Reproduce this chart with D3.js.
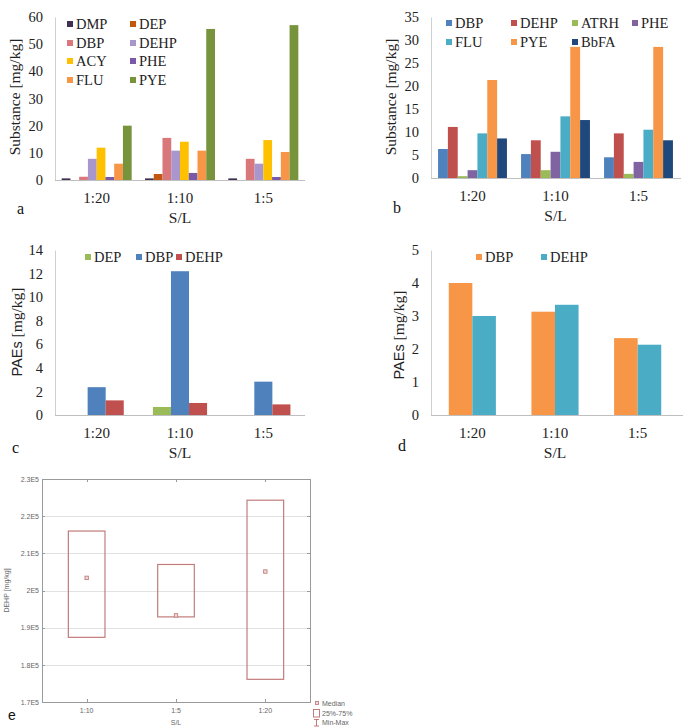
<!DOCTYPE html>
<html><head><meta charset="utf-8">
<script src="https://cdn.jsdelivr.net/npm/d3@7"></script>
<style>
body{margin:0;background:#fff;}
svg{display:block;}
</style></head>
<body>
<svg id="chart" width="685" height="727"></svg>
<script>
// ---------- DATA ----------
const categories = ["1:20", "1:10", "1:5"];

// Panel a
const seriesA = ["DMP", "DEP", "DBP", "DEHP", "ACY", "PHE", "FLU", "PYE"];
const colorsA = ["#403152", "#C0580F", "#D9777A", "#A896CC", "#FFC000", "#7A5AA8", "#F79646", "#77933C"];
const valuesA_1_20 = [0.6, 0, 1.2, 7.8, 11.9, 1.1, 6.0, 20.0];
const valuesA_1_10 = [0.6, 2.2, 15.5, 10.8, 14.1, 2.6, 10.8, 55.6];
const valuesA_1_5  = [0.6, 0, 7.8, 6.0, 14.7, 1.1, 10.3, 57.0];
const ticksA = [0, 10, 20, 30, 40, 50, 60];

// Panel b
const seriesB = ["DBP", "DEHP", "ATRH", "PHE", "FLU", "PYE", "BbFA"];
const colorsB = ["#4F81BD", "#C0504D", "#9BBB59", "#8064A2", "#4BACC6", "#F79646", "#1F497D"];
const valuesB_1_20 = [6.3, 11.1, 0.4, 1.7, 9.7, 21.3, 8.6];
const valuesB_1_10 = [5.2, 8.2, 1.7, 5.7, 13.4, 28.5, 12.6];
const valuesB_1_5  = [4.5, 9.7, 0.9, 3.5, 10.5, 28.5, 8.2];
const ticksB = [0, 5, 10, 15, 20, 25, 30, 35];

// Panel c
const seriesC = ["DEP", "DBP", "DEHP"];
const colorsC = ["#9BBB59", "#4F81BD", "#C0504D"];
const valuesC_1_20 = [0, 2.36, 1.24];
const valuesC_1_10 = [0.68, 12.2, 1.02];
const valuesC_1_5  = [0, 2.83, 0.9];
const ticksC = [0, 2, 4, 6, 8, 10, 12, 14];

// Panel d
const seriesD = ["DBP", "DEHP"];
const colorsD = ["#F79646", "#4BACC6"];
const valuesD_1_20 = [4.0, 3.0];
const valuesD_1_10 = [3.13, 3.34];
const valuesD_1_5  = [2.33, 2.13];
const ticksD = [0, 1, 2, 3, 4, 5];

// Panel e (box plot)
const categoriesE = ["1:10", "1:5", "1:20"];
const q1E     = [187400, 192900, 176100];
const q3E     = [216000, 207000, 224300];
const medianE = [203400, 193300, 205100];
const tickValuesE = [170000, 180000, 190000, 200000, 210000, 220000, 230000];
const tickLabelsE = ["1.7E5", "1.8E5", "1.9E5", "2E5", "2.1E5", "2.2E5", "2.3E5"];
const legendE = ["Median", "25%-75%", "Min-Max"];

// ---------- DRAW ----------
const svg = d3.select("#chart");
const SERIF = '"Liberation Serif", "Times New Roman", serif';
const SANS = '"Liberation Sans", Arial, sans-serif';

function barPanel(o) {
  const g = svg.append("g");
  const x = d3.scaleBand().domain(categories).range([o.x0, o.x1]).padding(0);
  const y = d3.scaleLinear().domain([0, o.max]).range([o.yBottom, o.yTop]);
  const bw = x.bandwidth();
  const inner = d3.scaleBand().domain(o.series)
    .range([bw * (1 - o.frac) / 2, bw * (1 + o.frac) / 2]).padding(0);

  // y axis
  const ya = g.append("g").attr("transform", `translate(${o.x0},0)`)
    .call(d3.axisLeft(y).tickValues(o.ticks).tickFormat(d3.format("d")).tickSize(0).tickPadding(12).tickSizeOuter(0));
  ya.attr("font-family", null).attr("font-size", null);
  ya.select(".domain").attr("stroke", "#D0D0D0");
  ya.selectAll("text").style("font-family", SERIF).style("font-size", "14.5px").attr("fill", "#222");

  // bars
  categories.forEach((c, ci) => {
    const vals = o.values[ci];
    g.selectAll(null).data(o.series.map((s, si) => ({ s, v: vals[si], col: o.colors[si] })))
      .enter().append("rect")
      .attr("x", d => x(c) + inner(d.s))
      .attr("width", inner.bandwidth())
      .attr("y", d => y(d.v))
      .attr("height", d => y(0) - y(d.v))
      .attr("fill", d => d.col);
  });

  // x axis
  const xa = g.append("g").attr("transform", `translate(0,${o.yBottom})`)
    .call(d3.axisBottom(x).tickSize(0).tickPadding(12).tickSizeOuter(0));
  xa.attr("font-family", null).attr("font-size", null);
  xa.select(".domain").attr("stroke", "#BFBFBF").attr("d", `M${o.x0},0.5H${o.xLine}`);
  xa.selectAll("text").style("font-family", SERIF).style("font-size", "15px").attr("fill", "#222");

  // axis titles
  g.append("text").style("font-family", SERIF).attr("x", (o.x0 + o.x1) / 2).attr("y", o.yBottom + 43)
    .attr("text-anchor", "middle").style("font-size", "15.5px").attr("fill", "#222")
    .text("S/L");
  const yt = g.append("text").style("font-family", SERIF)
    .attr("transform", `translate(${o.ytX},${o.ytY}) rotate(-90)`)
    .attr("text-anchor", "middle").style("font-size", "15.5px").attr("fill", "#222");
  if (o.yTitleSans) {
    yt.append("tspan").style("font-family", SANS).style("font-size", "14.5px").text(o.yTitleSans);
    yt.append("tspan").text(o.yTitle);
  } else yt.text(o.yTitle);

  // legend
  o.series.forEach((s, si) => {
    const p = o.legendPos[si];
    g.append("rect").attr("x", p[0]).attr("y", p[1] - 3).attr("width", 6).attr("height", 6).attr("fill", o.colors[si]);
    g.append("text").style("font-family", SERIF).attr("x", p[0] + 9).attr("y", p[1] + 5)
      .style("font-size", "14.5px").attr("fill", "#222").text(s);
  });

  // panel letter
  g.append("text").style("font-family", SERIF).attr("x", o.letterPos[0]).attr("y", o.letterPos[1])
    .style("font-size", "16px").attr("fill", "#111").text(o.letter);
}

barPanel({
  x0: 55, x1: 305, xLine: 305, yTop: 17, yBottom: 180, max: 60, ticks: ticksA,
  series: seriesA, colors: colorsA, values: [valuesA_1_20, valuesA_1_10, valuesA_1_5], frac: 0.84,
  yTitle: "Substance [mg/kg]", ytX: 20, ytY: 97,
  legendPos: [[67, 24], [130, 24], [67, 43], [130, 43], [67, 61], [130, 61], [67, 80], [130, 80]],
  letter: "a", letterPos: [17, 214]
});

barPanel({
  x0: 431, x1: 680, xLine: 681, yTop: 17, yBottom: 178, max: 35, ticks: ticksB,
  series: seriesB, colors: colorsB, values: [valuesB_1_20, valuesB_1_10, valuesB_1_5], frac: 0.83,
  yTitle: "Substance [mg/kg]", ytX: 396, ytY: 97,
  legendPos: [[446, 23], [511, 23], [572, 23], [632, 23], [446, 42], [511, 42], [572, 42]],
  letter: "b", letterPos: [393, 213]
});

barPanel({
  x0: 55, x1: 305, xLine: 305, yTop: 250, yBottom: 415, max: 14, ticks: ticksC,
  series: seriesC, colors: colorsC, values: [valuesC_1_20, valuesC_1_10, valuesC_1_5], frac: 0.65,
  yTitleSans: "PAEs", yTitle: " [mg/kg]", ytX: 22, ytY: 332,
  legendPos: [[85, 257], [136, 257], [176, 257]],
  letter: "c", letterPos: [12, 453]
});

barPanel({
  x0: 431, x1: 679, xLine: 683, yTop: 250, yBottom: 415, max: 5, ticks: ticksD,
  series: seriesD, colors: colorsD, values: [valuesD_1_20, valuesD_1_10, valuesD_1_5], frac: 0.57,
  yTitleSans: "PAEs", yTitle: " [mg/kg]", ytX: 404, ytY: 335,
  legendPos: [[476, 257], [541, 257]],
  letter: "d", letterPos: [398, 451]
});

// ---------- Panel e ----------
(function () {
  const g = svg.append("g");
  const L = 42, R = 310, T = 479, B = 702;
  const x = d3.scaleBand().domain(categoriesE).range([L, R]).padding(0);
  const y = d3.scaleLinear().domain([170000, 230000]).range([B, T]);
  const boxCol = "#C27C7C";
  const frameCol = "#9A9A9A";

  // grid
  g.selectAll(null).data(tickValuesE.slice(1, -1)).enter().append("line")
    .attr("x1", L).attr("x2", R).attr("y1", d => Math.round(y(d)) + 0.5).attr("y2", d => Math.round(y(d)) + 0.5)
    .attr("stroke", "#E2E2E2").attr("stroke-width", 1);

  // y tick labels
  const ya = g.append("g").attr("transform", `translate(${L},0)`)
    .call(d3.axisLeft(y).tickValues(tickValuesE).tickFormat((d, i) => tickLabelsE[i]).tickSize(0).tickPadding(3));
  ya.attr("font-family", null).attr("font-size", null);
  ya.select(".domain").remove();
  ya.selectAll("text").style("font-family", SANS).style("font-size", "7px").attr("fill", "#666");

  // x tick labels
  const xa = g.append("g").attr("transform", `translate(0,${B})`)
    .call(d3.axisBottom(x).tickSize(0).tickPadding(6));
  xa.attr("font-family", null).attr("font-size", null);
  xa.select(".domain").remove();
  xa.selectAll("text").style("font-family", SANS).style("font-size", "7px").attr("fill", "#666");

  // inward ticks on frame
  categoriesE.forEach(c => {
    const cx = Math.round(x(c) + x.bandwidth() / 2) + 0.5;
    g.append("line").attr("x1", cx).attr("x2", cx).attr("y1", T).attr("y2", T + 3).attr("stroke", frameCol);
    g.append("line").attr("x1", cx).attr("x2", cx).attr("y1", B).attr("y2", B - 3).attr("stroke", frameCol);
  });
  tickValuesE.forEach(v => {
    const yy = Math.round(y(v)) + 0.5;
    g.append("line").attr("x1", L).attr("x2", L + 3).attr("y1", yy).attr("y2", yy).attr("stroke", frameCol);
    g.append("line").attr("x1", R).attr("x2", R - 3).attr("y1", yy).attr("y2", yy).attr("stroke", frameCol);
  });

  // frame
  g.append("rect").attr("x", L + 0.5).attr("y", T + 0.5).attr("width", R - L).attr("height", B - T)
    .attr("fill", "none").attr("stroke", frameCol).attr("stroke-width", 1);

  // boxes
  const bw = x.bandwidth() * 0.41;
  categoriesE.forEach((c, i) => {
    const cx = x(c) + x.bandwidth() / 2;
    g.append("rect").attr("x", cx - bw / 2).attr("y", y(q3E[i])).attr("width", bw)
      .attr("height", y(q1E[i]) - y(q3E[i])).attr("fill", "none").attr("stroke", boxCol).attr("stroke-width", 1.2);
    g.append("rect").attr("x", cx - 1.7).attr("y", y(medianE[i]) - 1.7).attr("width", 3.4).attr("height", 3.4)
      .attr("fill", "#F4DADA").attr("stroke", boxCol).attr("stroke-width", 0.9);
  });

  // axis titles
  g.append("text").style("font-family", SANS).attr("transform", `translate(9,${(T + B) / 2}) rotate(-90)`)
    .attr("text-anchor", "middle").style("font-size", "7px").attr("fill", "#666")
    .text("DEHP [mg/kg]");
  g.append("text").style("font-family", SANS).attr("x", (L + R) / 2).attr("y", 725).attr("text-anchor", "middle")
    .style("font-size", "7px").attr("fill", "#666").text("S/L");

  // legend
  g.append("rect").attr("x", 315.5).attr("y", 701.5).attr("width", 3).attr("height", 3)
    .attr("fill", "#F4DADA").attr("stroke", boxCol).attr("stroke-width", 0.9);
  g.append("rect").attr("x", 313.5).attr("y", 709.5).attr("width", 6).attr("height", 7.5)
    .attr("fill", "none").attr("stroke", boxCol).attr("stroke-width", 1);
  g.append("path").attr("d", "M314,719.5H319M316.5,719.5V726M314,726H319")
    .attr("fill", "none").attr("stroke", boxCol).attr("stroke-width", 1);
  [705.5, 715.5, 725].forEach((yy, i) => {
    g.append("text").style("font-family", SANS).attr("x", 322).attr("y", yy).style("font-size", "7px")
      .attr("fill", "#666").text(legendE[i]);
  });

  // panel letter
  g.append("text").style("font-family", SANS).attr("x", 8).attr("y", 720).style("font-size", "14px")
    .attr("fill", "#111").text("e");
})();
</script>
</body></html>
